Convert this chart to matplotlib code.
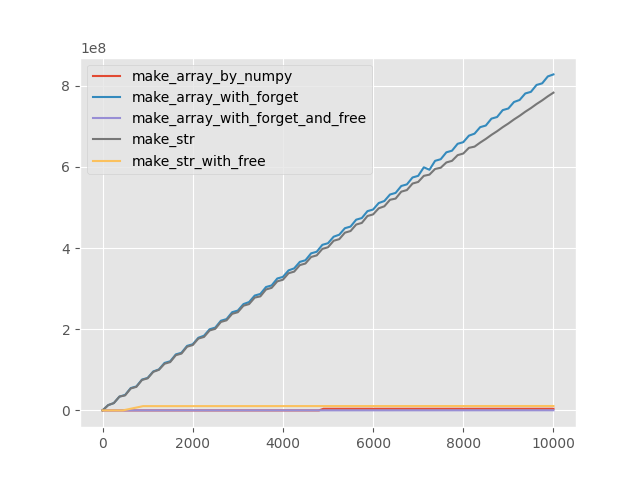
import numpy as np
import matplotlib
matplotlib.use("Agg")
import matplotlib.pyplot as plt

plt.style.use("ggplot")

# iterations sampled every 125 steps for the two big series (values in units of 1e6)
steps = np.arange(0, 10001, 125)

array_with_forget = [
    0, 13, 18, 34, 38, 55, 59, 76, 80, 96, 101, 117, 121, 138, 142, 159, 163,
    179, 184, 200, 204, 221, 225, 242, 246, 262, 267, 283, 287, 304, 308, 325,
    329, 345, 350, 366, 370, 387, 391, 408, 412, 428, 433, 449, 453, 470, 474,
    491, 495, 511, 516, 532, 536, 553, 557, 574, 578, 599, 593, 615, 619, 636,
    640, 657, 661, 677, 682, 698, 702, 719, 723, 740, 744, 760, 765, 781, 785,
    802, 806, 823, 828,
]

make_str = [
    0, 13, 18, 34, 37, 54, 58, 75, 79, 95, 100, 115, 119, 136, 140, 157, 161,
    177, 181, 197, 201, 218, 222, 238, 242, 258, 262, 278, 281, 298, 302, 318,
    322, 338, 342, 358, 362, 378, 382, 398, 402, 418, 422, 438, 442, 458, 462,
    479, 483, 498, 503, 519, 522, 539, 543, 559, 563, 578, 581, 595, 598, 611,
    615, 629, 633, 647, 650, 660, 669, 679, 688, 698, 707, 717, 726, 736, 745,
    755, 764, 774, 783,
]

# small series, read at their break points
numpy_x = [0, 4800, 4900, 10000]
numpy_y = [0, 0, 4, 4]

forget_free_x = [0, 10000]
forget_free_y = [0, 0.3]

str_free_x = [0, 450, 900, 10000]
str_free_y = [0, 0, 10.5, 10.8]

scale = 1e6

fig, ax = plt.subplots(figsize=(6.4, 4.8), dpi=100)
ax.plot(numpy_x, np.array(numpy_y) * scale, label="make_array_by_numpy")
ax.plot(steps, np.array(array_with_forget) * scale, label="make_array_with_forget")
ax.plot(forget_free_x, np.array(forget_free_y) * scale, label="make_array_with_forget_and_free")
ax.plot(steps, np.array(make_str) * scale, label="make_str")
ax.plot(str_free_x, np.array(str_free_y) * scale, label="make_str_with_free")
ax.legend(loc="upper left")

fig.savefig("out.png")
